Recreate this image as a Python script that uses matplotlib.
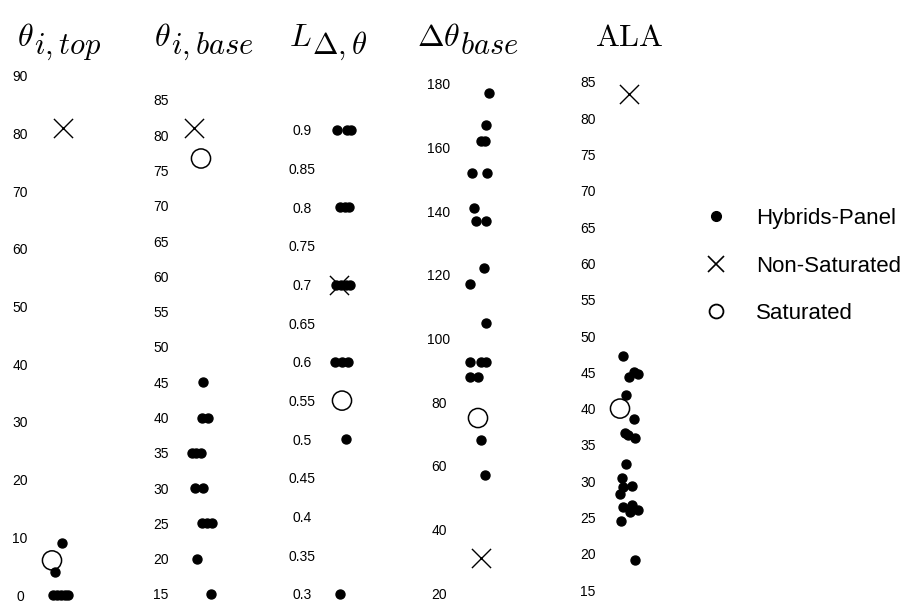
import numpy as np
import matplotlib
matplotlib.use('Agg')
import matplotlib.pyplot as plt
from matplotlib.lines import Line2D

plt.rcParams['font.family'] = ['Liberation Sans', 'DejaVu Sans']
plt.rcParams['mathtext.fontset'] = 'cm'

# Column titles: main symbol and (large) subscript
title_main = [r'$\theta$', r'$\theta$', r'$L$', r'$\Delta\theta$', r'$\mathrm{ALA}$']
title_sub = [r'$i,top$', r'$i,base$', r'$\Delta,\theta$', r'$base$', '']

# theta_i,top
top_hyb = [9, 4, 0, 0, 0, 0, 0]
top_hyb_jit = [2, -5, -7, -3, 1, 5, 8]
top_nonsat, top_nonsat_jit = 81, 3
top_sat, top_sat_jit = 6, -8

# theta_i,base
base_hyb = [45, 40, 40, 35, 35, 35, 30, 30, 25, 25, 25, 20, 15]
base_hyb_jit = [2, 1, 7, -9, -5, 0, -6, 2, 1, 6, 11, -4, 10]
base_nonsat, base_nonsat_jit = 81, -7
base_sat, base_sat_jit = 76.7, 0

# L_delta,theta
L_hyb = [0.9, 0.9, 0.9, 0.8, 0.8, 0.8, 0.7, 0.7, 0.7, 0.7, 0.6, 0.6, 0.6, 0.5, 0.3]
L_hyb_jit = [-5, 5, 9, -2, 3, 7, -6, -1, 4, 8, -7, 0, 6, 4, -2]
L_nonsat, L_nonsat_jit = 0.7, -3
L_sat, L_sat_jit = 0.55, 0

# delta theta_base
dth_hyb = [177, 167, 162, 162, 152, 152, 141, 137, 137, 122, 117, 105,
           92.5, 92.5, 92.5, 88, 88, 68, 57]
dth_hyb_jit = [10, 7, 2, 6, -7, 8, -5, -3, 7, 5, -9, 7, -9, 2, 7, -9, -1, 2, 6]
dth_nonsat, dth_nonsat_jit = 31, 2
dth_sat, dth_sat_jit = 75, -1

# ALA
ala_hyb = [47.2, 45.1, 44.8, 44.3, 41.9, 38.6, 36.6, 36.3, 36.0, 32.3, 30.5,
           29.4, 29.2, 28.2, 26.7, 26.4, 26.0, 25.7, 24.5, 19.2]
ala_hyb_jit = [-5, 6, 10, 1, -2, 6, -3, 0, 7, -2, -6, 4, -5, -8, 4, -5, 10, 2, -7, 7]
ala_nonsat, ala_nonsat_jit = 83.3, 1
ala_sat, ala_sat_jit = 40, -8

# Tick values per column
top_ticks = np.arange(0, 91, 10)
base_ticks = np.arange(15, 86, 5)
L_ticks = np.round(np.arange(0.3, 0.91, 0.05), 2)
dth_ticks = np.arange(20, 181, 20)
ala_ticks = np.arange(15, 86, 5)

panels = [
    (top_hyb, top_hyb_jit, top_nonsat, top_nonsat_jit, top_sat, top_sat_jit, top_ticks),
    (base_hyb, base_hyb_jit, base_nonsat, base_nonsat_jit, base_sat, base_sat_jit, base_ticks),
    (L_hyb, L_hyb_jit, L_nonsat, L_nonsat_jit, L_sat, L_sat_jit, L_ticks),
    (dth_hyb, dth_hyb_jit, dth_nonsat, dth_nonsat_jit, dth_sat, dth_sat_jit, dth_ticks),
    (ala_hyb, ala_hyb_jit, ala_nonsat, ala_nonsat_jit, ala_sat, ala_sat_jit, ala_ticks),
]

# layout (pixels)
W, H = 906, 602
centers = [60, 201, 342, 479, 628]
title_split = [34, 171, 312, 460, 629]
title_base = 46
ylims = [(-0.52, 91.2), (14.43, 89.38), (0.2948, 0.9787), (18.43, 184.7), (13.9, 86.79)]
half = 25
bottom_px, top_px = 598, 69

fig = plt.figure(figsize=(W / 100, H / 100), dpi=100)

for i, (hyb, hjit, ns, nsj, sat, satj, ticks) in enumerate(panels):
    c = centers[i]
    ax = fig.add_axes([(c - half) / W, (H - bottom_px) / H, 2 * half / W,
                       (bottom_px - top_px) / H])
    ax.scatter(hjit, hyb, s=42, c='k', zorder=3, clip_on=False)
    ax.scatter([nsj], [ns], marker='x', s=190, c='k', linewidths=1.0, zorder=2, clip_on=False)
    ax.scatter([satj], [sat], marker='o', s=190, facecolors='none', edgecolors='k',
               linewidths=1.1, zorder=2, clip_on=False)
    ax.set_xlim(-half, half)
    ax.set_ylim(*ylims[i])
    ax.set_xticks([])
    ax.set_yticks(ticks, [f'{t:g}' for t in ticks])
    ax.tick_params(axis='y', length=0, pad=10.8, labelsize=10)
    for lbl in ax.get_yticklabels():
        lbl.set_horizontalalignment('center')
    for s in ax.spines.values():
        s.set_visible(False)
    ax.patch.set_visible(False)

    # title: symbol + subscript drawn as two texts
    if title_sub[i]:
        fig.text(title_split[i] / W, 1 - title_base / H, title_main[i],
                 ha='right', va='baseline', fontsize=23)
        fig.text(title_split[i] / W, 1 - (title_base + 8) / H, title_sub[i],
                 ha='left', va='baseline', fontsize=22)
    else:
        fig.text(title_split[i] / W, 1 - title_base / H, title_main[i],
                 ha='center', va='baseline', fontsize=23)

handles = [
    Line2D([], [], ls='none', marker='o', ms=7, color='k'),
    Line2D([], [], ls='none', marker='x', ms=11, mew=1.2, color='k'),
    Line2D([], [], ls='none', marker='o', ms=10, mfc='none', mec='k', mew=1.3),
]
fig.legend(handles, ['Hybrids-Panel', 'Non-Saturated', 'Saturated'],
           loc='center left', bbox_to_anchor=(674 / W, (H - 266) / H),
           frameon=False, fontsize=16, labelspacing=1.2)

fig.savefig('out.png', dpi=100)
